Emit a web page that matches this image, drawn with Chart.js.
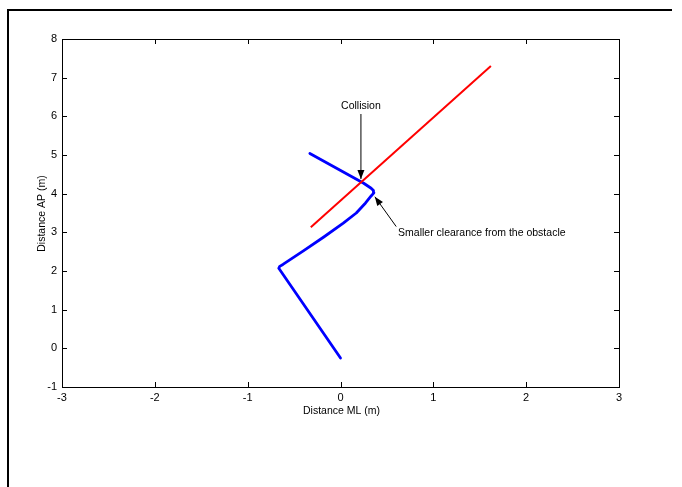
<!DOCTYPE html>
<html>
<head>
<meta charset="utf-8">
<script src="https://cdn.jsdelivr.net/npm/chart.js@4.4.1/dist/chart.umd.min.js"></script>
<style>
  body { margin: 0; background: #fff; }
  #wrap { position: relative; width: 682px; height: 487px; }
  #frame {
    position: absolute; left: 7px; top: 9px; width: 663px; height: 480px;
    border-top: 2px solid #000; border-left: 2px solid #000;
    pointer-events: none;
  }
  canvas { position: absolute; left: 0; top: 0; }
</style>
</head>
<body>
<div id="wrap">
  <canvas id="chart" width="682" height="487"></canvas>
  <div id="frame"></div>
</div>
<script>
// Data (metres)
const xTicks = [-3, -2, -1, 0, 1, 2, 3];
const yTicks = [-1, 0, 1, 2, 3, 4, 5, 6, 7, 8];

// walking path (blue)
const pathX = [0.00, -0.65, -0.665, -0.655, -0.62, -0.40, -0.18, 0.03, 0.17, 0.27, 0.33, 0.36, 0.355, 0.33, 0.25, -0.33];
const pathY = [-0.25, 2.02, 2.07, 2.12, 2.17, 2.52, 2.88, 3.24, 3.50, 3.76, 3.94, 4.02, 4.08, 4.14, 4.27, 5.04];

// obstacle trajectory (red)
const obstacleX = [-0.32, 1.62];
const obstacleY = [3.13, 7.30];

// annotations: text position and arrow (from -> to), in data units
const notes = [
  { text: 'Collision', x: 0.22, y: 6.27, align: 'center', from: [0.22, 6.06], to: [0.22, 4.38] },
  { text: 'Smaller clearance from the obstacle', x: 0.62, y: 2.98, align: 'left', from: [0.60, 3.15], to: [0.37, 3.92] }
];

const toPts = (xs, ys) => xs.map((x, i) => ({ x: x, y: ys[i] }));

const FONT = 'Liberation Sans, Arial, sans-serif';

// inward ticks on all four sides, plus axis titles and arrows
const extras = {
  id: 'extras',
  afterDraw(chart) {
    const ctx = chart.ctx;
    const xs = chart.scales.x, ys = chart.scales.y;
    const a = chart.chartArea;
    ctx.save();
    ctx.strokeStyle = '#000';
    ctx.lineWidth = 1;
    ctx.beginPath();
    xTicks.slice(1, -1).forEach(v => {
      const px = Math.round(xs.getPixelForValue(v)) + 0.5;
      ctx.moveTo(px, a.bottom); ctx.lineTo(px, a.bottom - 5);
      ctx.moveTo(px, a.top); ctx.lineTo(px, a.top + 5);
    });
    yTicks.slice(1, -1).forEach(v => {
      const py = Math.round(ys.getPixelForValue(v)) + 0.5;
      ctx.moveTo(a.left, py); ctx.lineTo(a.left + 5, py);
      ctx.moveTo(a.right, py); ctx.lineTo(a.right - 5, py);
    });
    ctx.stroke();

    // axis titles
    ctx.fillStyle = '#000';
    ctx.font = '10.5px ' + FONT;
    ctx.textAlign = 'center';
    ctx.textBaseline = 'middle';
    ctx.fillText('Distance ML (m)', (a.left + a.right) / 2 + 1, a.bottom + 24);
    ctx.save();
    ctx.translate(42, (a.top + a.bottom) / 2 + 0.5);
    ctx.rotate(-Math.PI / 2);
    ctx.fillText('Distance AP (m)', 0, 0);
    ctx.restore();

    // annotations
    ctx.font = '10.5px ' + FONT;
    notes.forEach(n => {
      ctx.textAlign = n.align;
      ctx.fillText(n.text, xs.getPixelForValue(n.x), ys.getPixelForValue(n.y));
      const x1 = xs.getPixelForValue(n.from[0]), y1 = ys.getPixelForValue(n.from[1]);
      const x2 = xs.getPixelForValue(n.to[0]), y2 = ys.getPixelForValue(n.to[1]);
      const ang = Math.atan2(y2 - y1, x2 - x1);
      ctx.beginPath();
      ctx.moveTo(x1, y1); ctx.lineTo(x2, y2);
      ctx.stroke();
      const L = 9, W = 3.5;
      const bx = x2 - L * Math.cos(ang), by = y2 - L * Math.sin(ang);
      ctx.beginPath();
      ctx.moveTo(x2, y2);
      ctx.lineTo(bx + W * Math.sin(ang), by - W * Math.cos(ang));
      ctx.lineTo(bx - W * Math.sin(ang), by + W * Math.cos(ang));
      ctx.closePath();
      ctx.fill();
    });
    ctx.restore();
  }
};

new Chart(document.getElementById('chart'), {
  type: 'scatter',
  data: {
    datasets: [
      {
        data: toPts(obstacleX, obstacleY),
        showLine: true,
        borderColor: '#FF0000',
        borderWidth: 2,
        pointRadius: 0,
        tension: 0
      },
      {
        data: toPts(pathX, pathY),
        showLine: true,
        borderColor: '#0000FF',
        borderWidth: 2.8,
        borderJoinStyle: 'round',
        borderCapStyle: 'round',
        pointRadius: 0,
        tension: 0
      }
    ]
  },
  options: {
    responsive: false,
    animation: false,
    layout: { padding: { left: 0, top: 39, right: 63, bottom: 0 } },
    plugins: { legend: { display: false }, tooltip: { enabled: false } },
    scales: {
      x: {
        type: 'linear',
        min: xTicks[0], max: xTicks[xTicks.length - 1],
        afterBuildTicks: s => { s.ticks = xTicks.map(v => ({ value: v })); },
        afterFit: s => { s.height = 100; },
        grid: { display: true, drawOnChartArea: false, drawTicks: false, color: '#000' },
        border: { color: '#000', width: 1 },
        ticks: { color: '#000', padding: 4, font: { family: FONT, size: 11 } }
      },
      y: {
        type: 'linear',
        min: yTicks[0], max: yTicks[yTicks.length - 1],
        afterBuildTicks: s => { s.ticks = yTicks.map(v => ({ value: v })); },
        afterFit: s => { s.width = 62; },
        grid: { display: true, drawOnChartArea: false, drawTicks: false, color: '#000' },
        border: { color: '#000', width: 1 },
        ticks: { color: '#000', padding: 5, font: { family: FONT, size: 11 } }
      },
      x2: {
        type: 'linear', position: 'top', display: true,
        min: xTicks[0], max: xTicks[xTicks.length - 1],
        afterFit: s => { s.height = 0; },
        grid: { drawOnChartArea: false, drawTicks: false },
        border: { color: '#000', width: 1 },
        ticks: { display: false }
      },
      y2: {
        type: 'linear', position: 'right', display: true,
        min: yTicks[0], max: yTicks[yTicks.length - 1],
        afterFit: s => { s.width = 0; },
        grid: { drawOnChartArea: false, drawTicks: false },
        border: { color: '#000', width: 1 },
        ticks: { display: false }
      }
    }
  },
  plugins: [extras]
});
</script>
</body>
</html>
